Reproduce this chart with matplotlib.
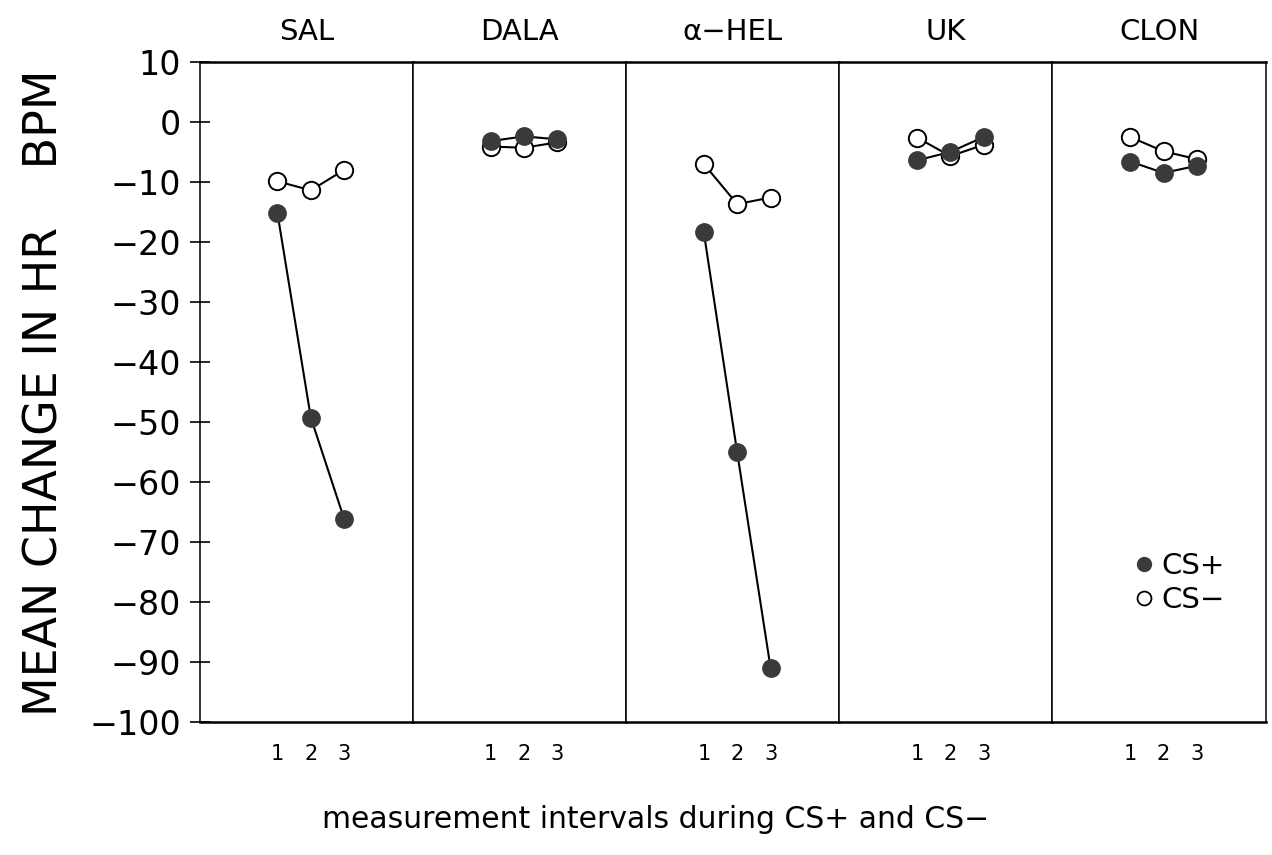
import matplotlib
matplotlib.use("Agg")
import matplotlib.pyplot as plt

# drug groups (one panel each)
panels = ['SAL', 'DALA', 'α−HEL', 'UK', 'CLON']
intervals = [1, 2, 3]

# mean change in heart rate (BPM) per measurement interval
cs_plus = [
    [-15.2, -49.3, -66.2],   # SAL
    [-3.2, -2.4, -2.9],      # DALA
    [-18.4, -55.1, -91.0],   # alpha-HEL
    [-6.4, -5.0, -2.5],      # UK
    [-6.6, -8.5, -7.3],      # CLON
]
cs_minus = [
    [-9.9, -11.4, -8.0],
    [-4.1, -4.3, -3.4],
    [-7.0, -13.7, -12.6],
    [-2.6, -5.7, -3.8],
    [-2.5, -4.9, -6.2],
]

yticks = list(range(10, -101, -10))
yticklabels = [str(v).replace('-', '−') for v in yticks]

plt.rcParams['font.family'] = ['DejaVu Sans']

fig, axes = plt.subplots(1, 5, figsize=(12.72, 8.55), dpi=100, sharey=True)
fig.subplots_adjust(left=0.157, right=0.995, top=0.9275, bottom=0.156, wspace=0)

fill_col = '#3a3a3a'
for i, ax in enumerate(axes):
    ax.plot(intervals, cs_minus[i], color='black', lw=1.5, marker='o', ms=12.5,
            mfc='white', mec='black', mew=1.4, zorder=3)
    ax.plot(intervals, cs_plus[i], color='black', lw=1.5, marker='o', ms=12.5,
            mfc=fill_col, mec=fill_col, zorder=4)

    ax.set_xlim(-1.33, 5.06)
    ax.set_ylim(-100, 10)
    ax.set_xticks(intervals)
    ax.set_xticklabels(['1', '2', '3'], fontsize=15)
    ax.tick_params(axis='x', length=0, pad=16)
    ax.set_title(panels[i], fontsize=21, pad=16)
    for s in ax.spines.values():
        s.set_linewidth(1.1)
    ax.spines['top'].set_linewidth(1.8)
    ax.spines['bottom'].set_linewidth(1.8)
    if i > 0:
        ax.tick_params(axis='y', left=False)

axes[0].set_yticks(yticks)
axes[0].set_yticklabels(yticklabels, fontsize=24)
axes[0].tick_params(axis='y', direction='inout', length=15, width=1.2, pad=6)

# legend in last panel
leg_ax = axes[-1]
leg_ax.plot([], [], 'o', ms=10, mfc=fill_col, mec=fill_col, label='CS+')
leg_ax.plot([], [], 'o', ms=10, mfc='white', mec='black', mew=1.3, label='CS−')
leg_ax.legend(loc='center right', bbox_to_anchor=(0.93, 0.21), frameon=False,
              fontsize=21, handlelength=0.6, handletextpad=0.3, labelspacing=0.2)

fig.text(0.035, 0.541, 'MEAN CHANGE IN HR    BPM', rotation=90,
         fontsize=33, ha='center', va='center')
fig.text(0.515, 0.041, 'measurement intervals during CS+ and CS−',
         fontsize=21.5, ha='center', va='center')

fig.savefig('out.png', dpi=100)
